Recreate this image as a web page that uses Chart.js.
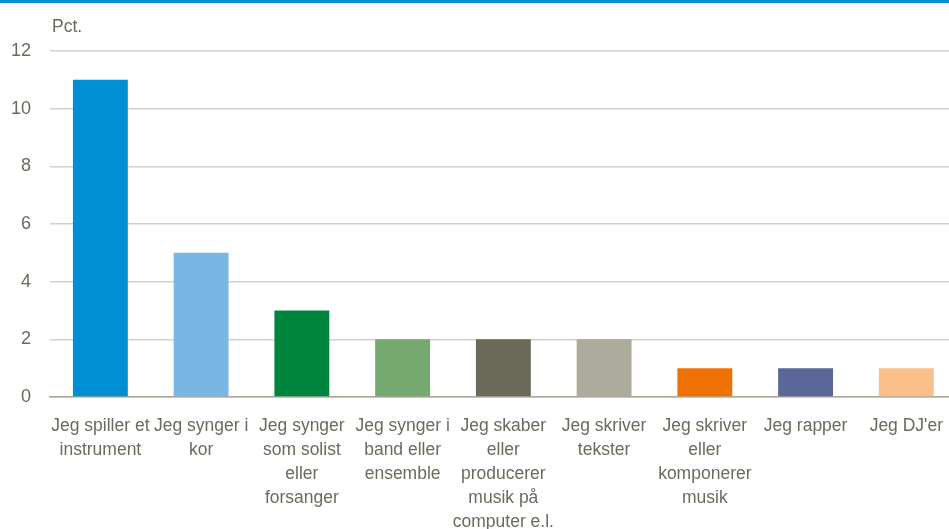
<!DOCTYPE html>
<html>
<head>
<meta charset="utf-8">
<script src="https://cdn.jsdelivr.net/npm/chart.js@4"></script>
<style>
  html, body { margin: 0; padding: 0; background: #fff; overflow: hidden; }
  #wrap { width: 949px; height: 526px; border-top: 3px solid #0090d4; position: relative; overflow: hidden; }
</style>
</head>
<body>
<div id="wrap"><canvas id="myChart" width="960" height="526"></canvas></div>
<script>
const labels = [
  ['Jeg spiller et', 'instrument'],
  ['Jeg synger i', 'kor'],
  ['Jeg synger', 'som solist', 'eller', 'forsanger'],
  ['Jeg synger i', 'band eller', 'ensemble'],
  ['Jeg skaber', 'eller', 'producerer', 'musik på', 'computer e.l.'],
  ['Jeg skriver', 'tekster'],
  ['Jeg skriver', 'eller', 'komponerer', 'musik'],
  ['Jeg rapper'],
  ["Jeg DJ'er"],
];

const values = [11, 5, 3, 2, 2, 2, 1, 1, 1];

const barColors = [
  '#008fd5', '#7ab6e3', '#00853f', '#76a96f', '#6b6a58',
  '#adab9c', '#ee7203', '#5b6699', '#f9c08c'
];

const yTicks = [0, 2, 4, 6, 8, 10, 12];

const textColor = '#6b6a5c';
const fontFam = '"Liberation Sans", Arial, sans-serif';

// "Pct." label over the y axis
const unitLabel = {
  id: 'unitLabel',
  afterDraw(chart) {
    const ctx = chart.ctx;
    ctx.save();
    ctx.font = '17.5px ' + fontFam;
    ctx.fillStyle = textColor;
    ctx.textAlign = 'left';
    ctx.textBaseline = 'alphabetic';
    ctx.fillText('Pct.', 52, 29);
    ctx.restore();
  }
};

const data = {
  labels: labels,
  datasets: [{
    label: '',
    data: values,
    backgroundColor: barColors,
    categoryPercentage: 1,
    barPercentage: 0.545,
  }]
};

const config = {
  type: 'bar',
  data: data,
  options: {
    responsive: false,
    animation: false,
    layout: { padding: { top: 48, right: 0, left: 0, bottom: 0 } },
    plugins: {
      legend: { display: false },
      tooltip: { enabled: false },
    },
    scales: {
      x: {
        grid: { display: false, drawTicks: false },
        border: { display: true, color: '#aaa898', width: 1.5 },
        ticks: {
          color: textColor,
          font: { family: fontFam, size: 17.5, lineHeight: 1.37 },
          padding: 17,
          maxRotation: 0,
          autoSkip: false,
        },
        afterFit(scale) { scale.height = 132; }
      },
      y: {
        min: 0,
        max: 12,
        afterBuildTicks(scale) { scale.ticks = yTicks.map(v => ({ value: v })); },
        grid: { color: '#d3d2c8', lineWidth: 1.5, drawTicks: false },
        border: { display: false },
        ticks: {
          color: textColor,
          font: { family: fontFam, size: 18 },
          padding: 19,
        },
        afterFit(scale) { scale.width = 50; }
      }
    }
  },
  plugins: [unitLabel]
};

const myChart = new Chart(
  document.getElementById('myChart'),
  config
);
</script>
</body>
</html>
